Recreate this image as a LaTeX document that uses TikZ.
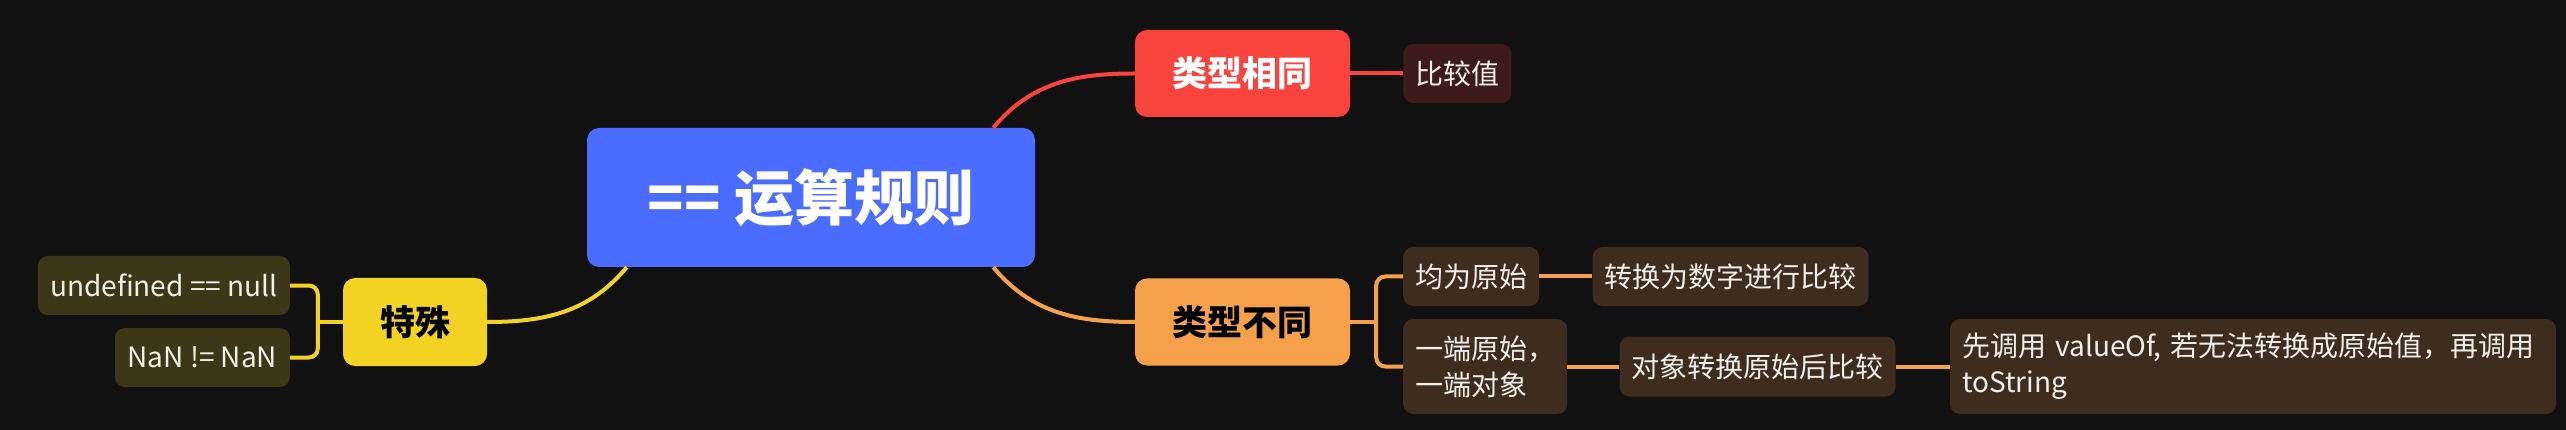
\documentclass[tikz,border=0pt]{standalone}
\usepackage{fontspec}
\setmainfont{Noto Sans CJK SC}
\usetikzlibrary{positioning}

\definecolor{bgcol}{HTML}{111111}
\definecolor{rootcol}{HTML}{4A6CFF}
\definecolor{redcol}{HTML}{F9433D}
\definecolor{redleaf}{HTML}{3E1B1A}
\definecolor{orangecol}{HTML}{F5A14B}
\definecolor{orangeleaf}{HTML}{3E2D1F}
\definecolor{yellowcol}{HTML}{F2D324}
\definecolor{yellowleaf}{HTML}{3D3718}
\definecolor{leaftext}{HTML}{F2EFEA}

\begin{document}
\begin{tikzpicture} [x=1pt, y=-1pt, node distance=53pt,
  root/.style={rectangle, rounded corners=12pt, fill=rootcol, text=white, minimum width=448pt, minimum height=139pt, font=\fontsize{60}{64}\selectfont\bfseries},
  topic/.style={rectangle, rounded corners=12pt, minimum width=215pt, minimum height=87pt, font=\fontsize{35}{40}\selectfont\bfseries},
  leaf/.style={rectangle, rounded corners=10pt, text=leaftext, minimum height=59pt, inner xsep=12pt, font=\fontsize{28}{36}\selectfont},
  edge/.style={line width=4pt}]
  \useasboundingbox [fill=bgcol] (0,0) rectangle (2566,430);

  % main nodes
  \node [root] (rule) at (811,197.5) {== 运算规则};
  \node [topic, fill=redcol, text=white] (same) at (1242.5,73.5) {类型相同};
  \node [topic, fill=orangecol, text=black] (diff) at (1242.5,322) {类型不同};
  \node [topic, fill=yellowcol, text=black, minimum width=144pt, minimum height=88pt] (special) at (415,322) {特殊};

  % leaves
  \node [leaf, fill=redleaf, minimum width=107pt, right=of same] (cmpval) {比较值};
  \node [leaf, fill=orangeleaf, minimum width=135pt, anchor=west] (prim) at (1403,276.5) {均为原始};
  \node [leaf, fill=orangeleaf, minimum width=164pt, minimum height=95pt, text width=140pt, align=left, anchor=west] (mixed) at (1403,366.5) {一端原始，\\一端对象};
  \node [leaf, fill=orangeleaf, minimum width=274pt, right=of prim] (tonum) {转换为数字进行比较};
  \node [leaf, fill=orangeleaf, minimum width=275pt, minimum height=60pt, right=52pt of mixed] (objconv) {对象转换原始后比较};
  \node [leaf, fill=orangeleaf, minimum width=606pt, minimum height=95pt, text width=582pt, align=left, right=54pt of objconv] (valueof) {先调用 valueOf, 若无法转换成原始值，再调用\\toString};
  \node [leaf, fill=yellowleaf, minimum width=252pt, anchor=east] (undef) at (290,285.5) {undefined == null};
  \node [leaf, fill=yellowleaf, minimum width=175pt, anchor=east] (nan) at (290,357.5) {NaN != NaN};

  % draw edges
  \draw [edge, redcol] ([xshift=-42pt]rule.north east) to[out=50, in=180] (same.west);
  \draw [edge, orangecol] ([xshift=-42pt]rule.south east) to[out=-50, in=180] (diff.west);
  \draw [edge, yellowcol] ([xshift=40pt]rule.south west) to[out=-130, in=0] (special.east);
  \draw [edge, redcol] (same) -- (cmpval);
  \draw [edge, orangecol] (prim) -- (tonum);
  \draw [edge, orangecol] (mixed) -- (objconv);
  \draw [edge, orangecol] (objconv) -- (valueof);
  % brackets
  \coordinate (dfork) at ([xshift=26pt]diff.east);
  \coordinate (sfork) at ([xshift=-25pt]special.west);
  \draw [edge, orangecol] (diff.east) -- (dfork);
  \draw [edge, orangecol, rounded corners=9pt] (prim.west) -| (dfork) |- (mixed.west);
  \draw [edge, yellowcol] (special.west) -- (sfork);
  \draw [edge, yellowcol, rounded corners=9pt] (undef.east) -| (sfork) |- (nan.east);
\end{tikzpicture}
\end{document}
